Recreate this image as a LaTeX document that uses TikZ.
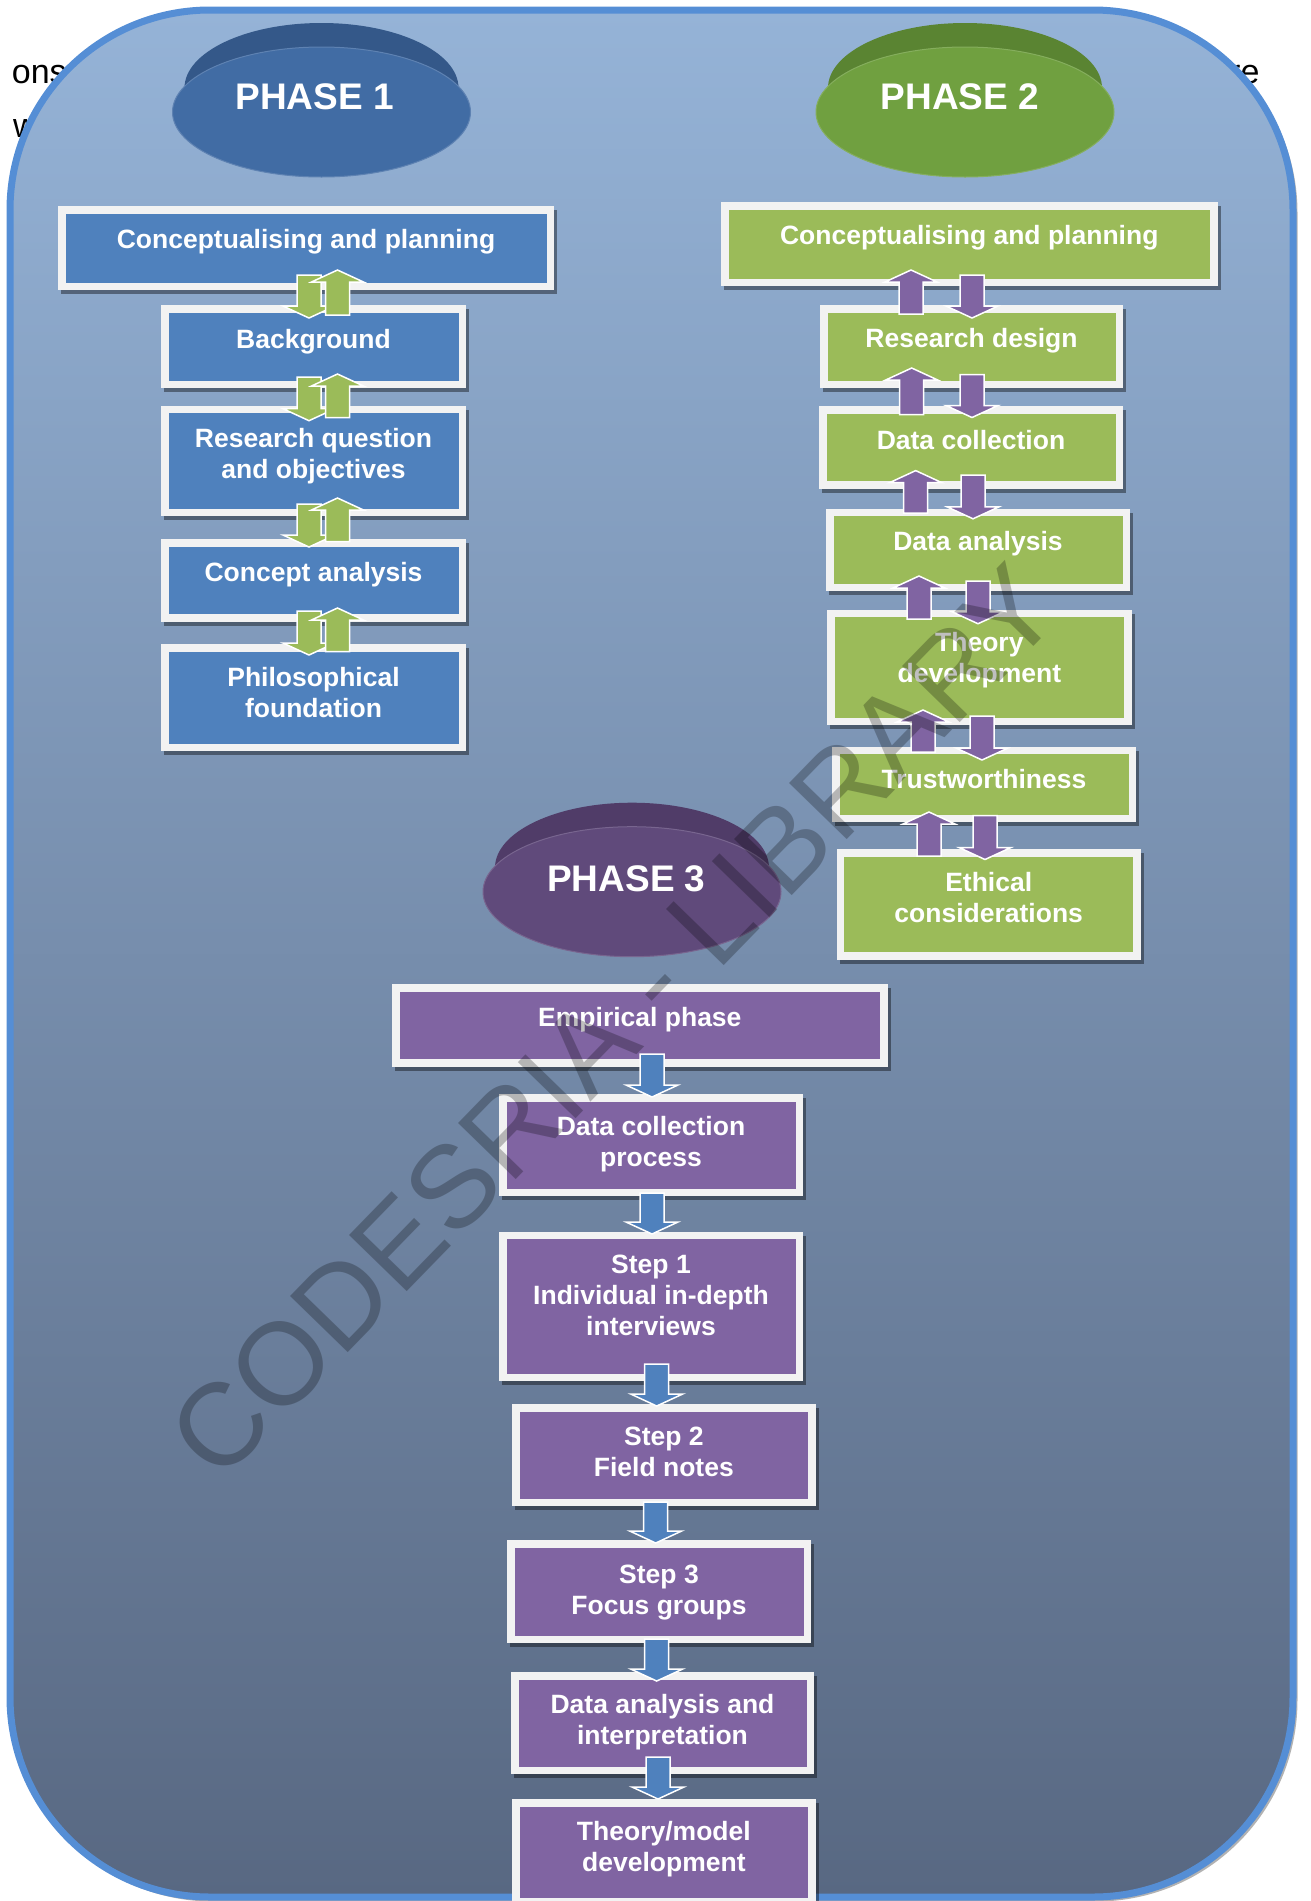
\documentclass[tikz,border=0pt]{standalone}
\usepackage{fontspec}
\setmainfont{Liberation Sans}
\usetikzlibrary{calc,shapes.geometric}
\definecolor{bgtop}{RGB}{149,179,215}
\definecolor{bgbot}{RGB}{88,104,130}
\definecolor{borderc}{RGB}{85,142,213}
\definecolor{framec}{RGB}{242,242,242}
\definecolor{boxblue}{RGB}{79,129,189}
\definecolor{boxgreen}{RGB}{155,187,89}
\definecolor{boxpurple}{RGB}{128,100,162}
\definecolor{pAface}{RGB}{65,108,164}
\definecolor{pAdark}{RGB}{52,88,137}
\definecolor{pBface}{RGB}{112,160,64}
\definecolor{pBdark}{RGB}{90,132,50}
\definecolor{pCface}{RGB}{96,74,123}
\definecolor{pCdark}{RGB}{80,60,104}
\tikzset{
  frameboxbase/.style={rectangle, draw=framec, line width=7.5pt, inner sep=0pt, outer sep=0pt},
  bluebox/.style={frameboxbase, fill=boxblue},
  greenbox/.style={frameboxbase, fill=boxgreen},
  purplebox/.style={frameboxbase, fill=boxpurple},
  boxtext/.style={text=white, align=center, font=\fontsize{26.5}{31}\selectfont\bfseries, inner sep=0pt},
  phasetext/.style={text=white, font=\fontsize{37}{44}\selectfont\bfseries, inner sep=0pt},
  doctext/.style={text=black, font=\fontsize{34}{40}\selectfont, inner sep=0pt, anchor=base west},
  boxshadow/.style={fill=black, fill opacity=0.4},
  wmark/.style={text=black, text opacity=0.25, font=\fontsize{117}{140}\selectfont, inner sep=0pt},
  blockdown/.style={draw=white, line width=1.5pt, fill=#1, to path={let \p1=(\tikztostart), \p2=(\tikztotarget) in
     (\x1-12pt,\y1) -- (\x1-12pt,\y2+12pt) -- (\x1-26pt,\y2+12pt) -- (\x1,\y2) -- (\x1+26pt,\y2+12pt) -- (\x1+12pt,\y2+12pt) -- (\x1+12pt,\y1) -- cycle}},
  blockup/.style={draw=white, line width=1.5pt, fill=#1, to path={let \p1=(\tikztostart), \p2=(\tikztotarget) in
     (\x1-12pt,\y1) -- (\x1-12pt,\y2-12pt) -- (\x1-26pt,\y2-12pt) -- (\x1,\y2) -- (\x1+26pt,\y2-12pt) -- (\x1+12pt,\y2-12pt) -- (\x1+12pt,\y1) -- cycle}},
}
% #1 name, #2 style, #3 x1, #4 y1, #5 x2, #6 y2, #7 text shift, #8 text
\newcommand\pbox[8]{%
  \fill[boxshadow] (#3+3,#4+4) rectangle (#5+3,#6+4);
  \node[#2, minimum width={#5-#3-7.5}, minimum height={#6-#4-7.5}] (#1) at ({(#3+#5)/2},{(#4+#6)/2}) {};
  \node[boxtext] (#1t) at ($(#1.center)+(0,#7)$) {#8};}
% #1 name, #2 cx, #3 face cy, #4 face colour, #5 dark colour
\newcommand\phaseell[5]{%
  \node[ellipse, fill=#5, minimum width=274, minimum height=130, inner sep=0pt] (#1top) at (#2,#3-24) {};
  \node[ellipse, fill=#4, draw=#4!85!white, line width=1pt, minimum width=298, minimum height=130, inner sep=0pt] (#1) at (#2,#3) {};}
\begin{document}
\begin{tikzpicture}[x=1pt,y=-1pt]
\useasboundingbox (0,0) rectangle (1311,1901);
\clip (0,0) rectangle (1311,1901);
% document text behind the frame
\node[doctext] (tons) at (11.7,83) {ons};
\node[doctext] (tw) at (13,137) {w};
\node[doctext] (tre) at (1229,83) {re};
% outer frame
\draw[line width=3pt, draw=black!30, rounded corners=200pt] (13,13) rectangle (1296,1900);
\shade[top color=bgtop, bottom color=bgbot, rounded corners=200pt] (10,10) rectangle (1293,1897);
\draw[line width=7pt, draw=borderc, rounded corners=200pt] (10,10) rectangle (1293,1897);
% phase ellipses
\phaseell{pha}{321.5}{112}{pAface}{pAdark}
\node[phasetext] (phat) at (314.7,97) {PHASE 1};
\phaseell{phb}{965}{112}{pBface}{pBdark}
\node[phasetext] (phbt) at (960,97) {PHASE 2};
\phaseell{phc}{632}{891.7}{pCface}{pCdark}
\node[phasetext] (phct) at (626.4,878.3) {PHASE 3};
% phase 1 boxes
\pbox{cpa}{bluebox}{58}{206}{554}{290}{-6.5}{Conceptualising and planning}
\pbox{bg}{bluebox}{161}{305}{466}{388}{-5}{Background}
\pbox{rq}{bluebox}{161}{405.7}{466}{516}{-4.5}{Research question\\and objectives}
\pbox{ca}{bluebox}{161}{539}{466}{621.7}{-5.5}{Concept analysis}
\pbox{pf}{bluebox}{161}{644}{466}{751}{-5}{Philosophical\\foundation}
% phase 2 boxes
\pbox{cpb}{greenbox}{721}{202}{1217.5}{286}{-5.8}{Conceptualising and planning}
\pbox{rd}{greenbox}{820}{305}{1123}{388}{-5.4}{Research design}
\pbox{dc}{greenbox}{819}{406}{1123}{488.5}{-7.2}{Data collection}
\pbox{da}{greenbox}{826}{508.6}{1130}{591}{-6.6}{Data analysis}
\pbox{td}{greenbox}{827}{609.5}{1131.7}{725}{-6.75}{Theory\\development}
\pbox{tr}{greenbox}{832}{746.5}{1136}{822.4}{-5}{Trustworthiness}
\pbox{et}{greenbox}{836.7}{849}{1140.7}{959.5}{-6.6}{Ethical\\considerations}
% phase 3 boxes
\pbox{ep}{purplebox}{392}{984}{887.7}{1066.7}{-5.5}{Empirical phase}
\pbox{dcp}{purplebox}{499}{1094}{803}{1196}{-1}{Data collection\\process}
\pbox{sa}{purplebox}{499}{1231.5}{803}{1381}{-10.8}{Step 1\\Individual in-depth\\interviews}
\pbox{sb}{purplebox}{512}{1404}{815.7}{1506}{-3}{Step 2\\Field notes}
\pbox{sc}{purplebox}{507}{1540}{811}{1643}{1.3}{Step 3\\Focus groups}
\pbox{dai}{purplebox}{511}{1672}{814}{1774}{-1}{Data analysis and\\interpretation}
\pbox{tm}{purplebox}{512}{1799}{815.7}{1905}{-3}{Theory/model\\development}
% phase 1 arrows
\draw[blockdown=boxgreen] ($(bg.center |- cpa.south)+(-4.5,-11.25)$) to ($(bg.north)+(-4.5,9.25)$);
\draw[blockup=boxgreen] ($(bg.north)+(24,6.25)$) to ($(bg.center |- cpa.south)+(24,-16.25)$);
\draw[blockdown=boxgreen] ($(rq.center |- bg.south)+(-4.5,-7.25)$) to ($(rq.north)+(-4.5,11.25)$);
\draw[blockup=boxgreen] ($(rq.north)+(24,8.25)$) to ($(rq.center |- bg.south)+(24,-10.25)$);
\draw[blockdown=boxgreen] ($(ca.center |- rq.south)+(-4.5,-8.25)$) to ($(ca.north)+(-4.5,4.25)$);
\draw[blockup=boxgreen] ($(ca.north)+(24,-1.05)$) to ($(ca.center |- rq.south)+(24,-14.25)$);
\draw[blockdown=boxgreen] ($(pf.center |- ca.south)+(-4.5,-6.95)$) to ($(pf.north)+(-4.5,7.25)$);
\draw[blockup=boxgreen] ($(pf.north)+(24,3.95)$) to ($(pf.center |- ca.south)+(24,-9.95)$);
% phase 2 arrows
\draw[blockup=boxpurple] ($(rd.north)+(-60.5,5.25)$) to ($(rd.center |- cpb.south)+(-60.5,-12.25)$);
\draw[blockdown=boxpurple] ($(rd.center |- cpb.south)+(0.5,-7.25)$) to ($(rd.north)+(0.5,9.25)$);
\draw[blockup=boxpurple] ($(dc.north)+(-59.3,4.75)$) to ($(dc.center |- rd.south)+(-59.3,-16.25)$);
\draw[blockdown=boxpurple] ($(dc.center |- rd.south)+(1,-9.65)$) to ($(dc.north)+(1,7.75)$);
\draw[blockup=boxpurple] ($(da.north)+(-62.3,0.65)$) to ($(da.center |- dc.south)+(-62.3,-14.15)$);
\draw[blockdown=boxpurple] ($(da.center |- dc.south)+(-5,-9.75)$) to ($(da.north)+(-5,6.45)$);
\draw[blockup=boxpurple] ($(td.north)+(-60.35,5.75)$) to ($(td.center |- da.south)+(-60.35,-11.25)$);
\draw[blockdown=boxpurple] ($(td.center |- da.south)+(-1.35,-6.25)$) to ($(td.north)+(-1.35,10.5)$);
\draw[blockup=boxpurple] ($(tr.north)+(-61,1.75)$) to ($(tr.center |- td.south)+(-61,-11.25)$);
\draw[blockdown=boxpurple] ($(tr.center |- td.south)+(-2,-5.25)$) to ($(tr.north)+(-2,9.75)$);
\draw[blockup=boxpurple] ($(et.north)+(-59.7,3.25)$) to ($(et.center |- tr.south)+(-59.7,-6.65)$);
\draw[blockdown=boxpurple] ($(et.center |- tr.south)+(-3.7,-2.95)$) to ($(et.north)+(-3.7,6.75)$);
% phase 3 arrows
\draw[blockdown=boxblue] ($(dcp.center |- ep.south)+(1,-8.95)$) to ($(dcp.north)+(1,-0.75)$);
\draw[blockdown=boxblue] ($(sa.center |- dcp.south)+(1,0.75)$) to ($(sa.north)+(1,-1.25)$);
\draw[blockdown=boxblue] ($(sb.center |- sa.south)+(-7.15,-13.25)$) to ($(sb.north)+(-7.15,-1.75)$);
\draw[blockdown=boxblue] ($(sc.center |- sb.south)+(-3.3,-0.25)$) to ($(sc.north)+(-3.3,-0.75)$);
\draw[blockdown=boxblue] ($(dai.center |- sc.south)+(-5.8,-0.25)$) to ($(dai.north)+(-5.8,5.25)$);
\draw[blockdown=boxblue] ($(tm.center |- dai.south)+(-5.85,-13.25)$) to ($(tm.north)+(-5.85,-3.75)$);
% watermark
\node[wmark, rotate=45.8, anchor=base west] (wm) at (219,1485) {CODESRIA - LIBRARY};
\end{tikzpicture}
\end{document}
